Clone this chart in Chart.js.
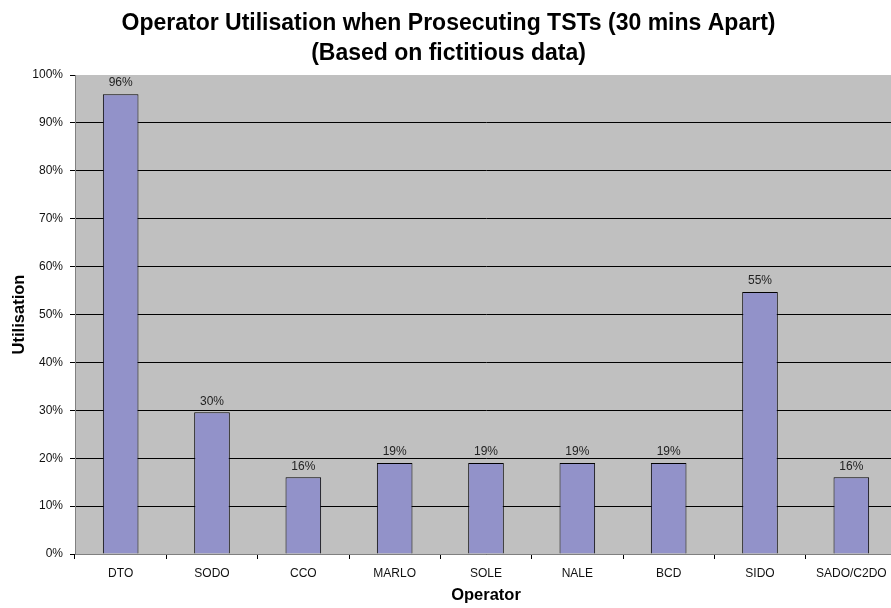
<!DOCTYPE html>
<html>
<head>
<meta charset="utf-8">
<script src="https://cdn.jsdelivr.net/npm/chart.js@4"></script>
<style>
html, body { margin:0; padding:0; background:#fff; overflow:hidden; }
#wrap { width:900px; height:608px; }
</style>
</head>
<body>
<div id="wrap"><canvas id="chart" width="900" height="608"></canvas></div>
<script>
// dados
const operators = ['DTO', 'SODO', 'CCO', 'MARLO', 'SOLE', 'NALE', 'BCD', 'SIDO', 'SADO/C2DO'];
const utilisation = [96, 29.6, 16, 19, 19, 19, 19, 54.7, 16];
const yTicks = [0, 10, 20, 30, 40, 50, 60, 70, 80, 90, 100];
const titleLines = ['Operator Utilisation when Prosecuting TSTs (30 mins Apart)', '(Based on fictitious data)'];

const FONT = 'Arial, "Liberation Sans", sans-serif';

// rótulos de valor acima das barras
const valueLabels = {
	id: 'valueLabels',
	afterDatasetsDraw(chart){
		const ctx = chart.ctx;
		const meta = chart.getDatasetMeta(0);
		ctx.save();
		ctx.font = '12px ' + FONT;
		ctx.fillStyle = '#222';
		ctx.textAlign = 'center';
		ctx.textBaseline = 'middle';
		meta.data.forEach((bar, i)=>{
			ctx.fillText(Math.round(utilisation[i]) + '%', bar.x, bar.y - 11);
		});
		ctx.restore();
	}
};

const plotBg = {
	id: 'plotBg',
	beforeDraw(chart){
		const a = chart.chartArea;
		chart.ctx.save();
		chart.ctx.fillStyle = '#c0c0c0';
		chart.ctx.fillRect(a.left, a.top, a.right - a.left, a.bottom - a.top);
		chart.ctx.restore();
	}
};

new Chart(document.getElementById('chart'), {
	type: 'bar',
	data: {
		labels: operators,
		datasets: [{
			data: utilisation,
			backgroundColor: '#9292c9',
			borderColor: '#000',
			borderWidth: 1,
			categoryPercentage: 1,
			barPercentage: 0.39
		}]
	},
	options: {
		responsive: false,
		animation: false,
		layout: { padding: { left: 0, right: 3, top: 0, bottom: 0 } },
		plugins: {
			legend: { display: false },
			tooltip: { enabled: false },
			title: {
				display: true,
				text: titleLines,
				color: '#000',
				font: { family: FONT, size: 23, weight: 'bold', lineHeight: 30 / 23 },
				padding: { top: 9, bottom: 6 }
			}
		},
		scales: {
			x: {
				afterFit(s){ s.height = 54; },
				grid: { display: true, offset: true, drawOnChartArea: false, tickLength: 5, tickColor: '#000' },
				border: { color: '#808080', width: 1 },
				ticks: { color: '#111', font: { family: FONT, size: 12 }, padding: 7, maxRotation: 0, autoSkip: false },
				title: { display: true, text: 'Operator', color: '#000', font: { family: FONT, size: 16.5, weight: 'bold' }, padding: { top: 0, bottom: 3 } }
			},
			y: {
				min: 0,
				max: 100,
				afterFit(s){ s.width = 75; },
				afterBuildTicks(s){ s.ticks = yTicks.map(v=>({ value: v })); },
				grid: {
					color: (c)=> (c.tick && c.tick.value === 100) ? 'rgba(0,0,0,0)' : '#000',
					tickColor: '#000',
					tickLength: 5,
					lineWidth: 1
				},
				border: { color: '#808080', width: 1 },
				ticks: { color: '#111', font: { family: FONT, size: 12 }, padding: 7, callback: (v)=> v + '%' },
				title: { display: true, text: 'Utilisation', color: '#000', font: { family: FONT, size: 16.5, weight: 'bold' }, padding: { top: 10, bottom: 0 } }
			}
		}
	},
	plugins: [plotBg, valueLabels]
});
</script>
</body>
</html>
